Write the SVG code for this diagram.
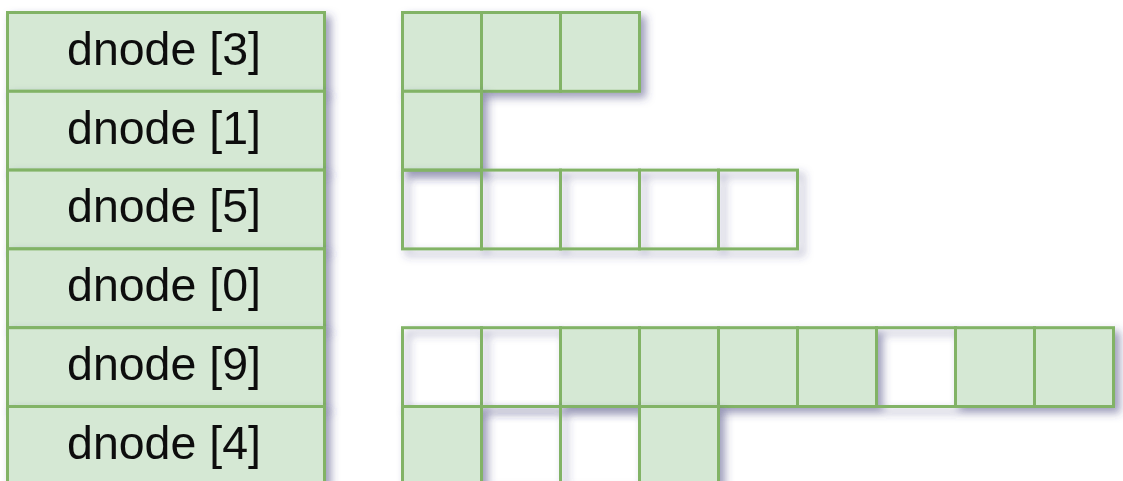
<svg xmlns="http://www.w3.org/2000/svg" width="1123" height="481" viewBox="0 0 1123 481">
<style>
.f{fill:#d5e8d4;stroke:#82b366;stroke-width:3}
.e{fill:none;stroke:#82b366;stroke-width:3}
.t{font-family:"Liberation Sans",Arial,sans-serif;font-size:46.5px;fill:#111;text-anchor:middle}
.s{filter:url(#sh)}
</style>
<defs>
<filter id="sh" x="-10%" y="-20%" width="130%" height="150%">
<feDropShadow dx="5" dy="5" stdDeviation="4" flood-color="#3c3c78" flood-opacity="0.5"/>
</filter>
</defs>
<rect width="1123" height="481" fill="#fff"/>
<g id="dnode3" class="s"><rect class="f" x="7.5" y="12.5" width="317" height="78.8"/><text class="t" x="164" y="64.8">dnode [3]</text></g>
<g id="dnode1" class="s"><rect class="f" x="7.5" y="91.3" width="317" height="78.8"/><text class="t" x="164" y="143.6">dnode [1]</text></g>
<g id="dnode5" class="s"><rect class="f" x="7.5" y="170.1" width="317" height="78.8"/><text class="t" x="164" y="222.4">dnode [5]</text></g>
<g id="dnode0" class="s"><rect class="f" x="7.5" y="248.9" width="317" height="78.8"/><text class="t" x="164" y="301.2">dnode [0]</text></g>
<g id="dnode9" class="s"><rect class="f" x="7.5" y="327.7" width="317" height="78.8"/><text class="t" x="164" y="380">dnode [9]</text></g>
<g id="dnode4" class="s"><rect class="f" x="7.5" y="406.5" width="317" height="78.8"/><text class="t" x="164" y="458.8">dnode [4]</text></g>
<g id="blocks3" class="s">
<rect class="f" x="402.5" y="12.5" width="79" height="78.8"/>
<rect class="f" x="481.5" y="12.5" width="79" height="78.8"/>
<rect class="f" x="560.5" y="12.5" width="79" height="78.8"/>
</g>
<g id="blocks1" class="s">
<rect class="f" x="402.5" y="91.3" width="79" height="78.8"/>
</g>
<g id="blocks5" class="s">
<rect class="e" x="402.5" y="170.1" width="79" height="78.8"/>
<rect class="e" x="481.5" y="170.1" width="79" height="78.8"/>
<rect class="e" x="560.5" y="170.1" width="79" height="78.8"/>
<rect class="e" x="639.5" y="170.1" width="79" height="78.8"/>
<rect class="e" x="718.5" y="170.1" width="79" height="78.8"/>
</g>
<g id="blocks9" class="s">
<rect class="e" x="402.5" y="327.7" width="79" height="78.8"/>
<rect class="e" x="481.5" y="327.7" width="79" height="78.8"/>
<rect class="f" x="560.5" y="327.7" width="79" height="78.8"/>
<rect class="f" x="639.5" y="327.7" width="79" height="78.8"/>
<rect class="f" x="718.5" y="327.7" width="79" height="78.8"/>
<rect class="f" x="797.5" y="327.7" width="79" height="78.8"/>
<rect class="e" x="876.5" y="327.7" width="79" height="78.8"/>
<rect class="f" x="955.5" y="327.7" width="79" height="78.8"/>
<rect class="f" x="1034.5" y="327.7" width="79" height="78.8"/>
</g>
<g id="blocks4" class="s">
<rect class="f" x="402.5" y="406.5" width="79" height="78.8"/>
<rect class="e" x="481.5" y="406.5" width="79" height="78.8"/>
<rect class="e" x="560.5" y="406.5" width="79" height="78.8"/>
<rect class="f" x="639.5" y="406.5" width="79" height="78.8"/>
</g>
<g id="connectors"/>
</svg>
